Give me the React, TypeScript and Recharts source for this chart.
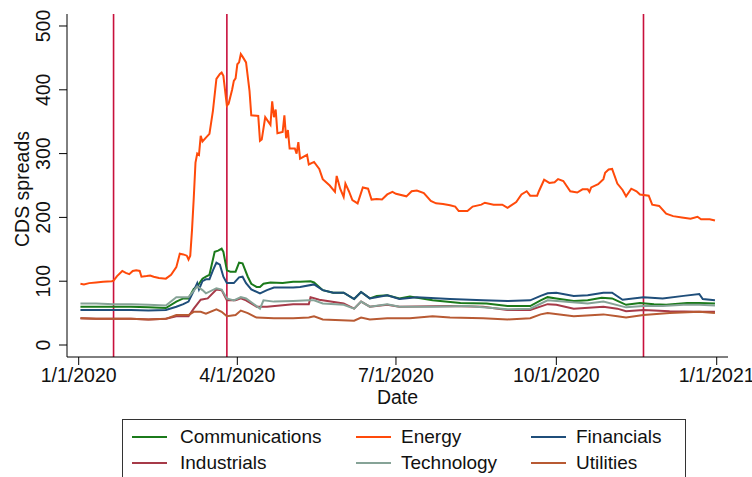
import React from 'react';
import { LineChart, Line, XAxis, YAxis, ReferenceLine, Label } from 'recharts';

// x = days since 1/1/2020
const xTickDays = [0, 91, 182, 274, 366];
const xTickLabels = ['1/1/2020', '4/1/2020', '7/1/2020', '10/1/2020', '1/1/2021'];
const yTicks = [0, 100, 200, 300, 400, 500];
const eventDays = [20, 85, 324];

const communications: [number, number][] = [
  [1, 60], [10, 60], [20, 60], [30, 60], [40, 59], [50, 58], [56, 68], [60, 73], [63, 73], [66, 88], [68, 92], [70, 100],
  [71, 104], [73, 107], [75, 110], [78, 146], [80, 148], [82, 151], [83, 146], [85, 117], [87, 115], [90, 115],
  [92, 129], [94, 128], [97, 107], [99, 96], [102, 91], [104, 91], [106, 96], [110, 98], [117, 97], [123, 99],
  [127, 99], [133, 100], [135, 98], [140, 86], [146, 82], [152, 82], [158, 72], [162, 83], [167, 73], [171, 77],
  [177, 78], [184, 73], [190, 76], [203, 70], [219, 66], [234, 65], [246, 61], [259, 61], [265, 70], [269, 75],
  [274, 73], [284, 69], [292, 70], [300, 74], [306, 73], [310, 68], [314, 63], [322, 66], [330, 64], [337, 63],
  [349, 66], [356, 66], [365, 65],
];

const energy: [number, number][] = [
  [1, 96], [3, 95], [6, 97], [10, 98], [14, 99], [19, 100], [20, 101], [22, 108], [25, 116], [27, 113], [29, 111],
  [31, 116], [33, 117], [35, 116], [36, 107], [39, 108], [41, 109], [43, 107], [46, 105], [50, 104], [53, 110],
  [56, 122], [58, 143], [60, 142], [62, 140], [63, 134], [64, 140], [65, 180], [66, 230], [67, 286], [68, 300],
  [69, 298], [70, 328], [71, 319], [73, 325], [75, 331], [77, 367], [79, 417], [81, 425], [82, 427], [83, 422],
  [85, 375], [86, 378], [88, 400], [89, 414], [90, 418], [91, 440], [92, 443], [93, 456], [94, 452], [96, 443],
  [98, 398], [99, 360], [103, 359], [104, 320], [105, 322], [107, 357], [110, 345], [111, 382], [112, 357],
  [113, 369], [114, 332], [117, 334], [118, 360], [119, 324], [120, 337], [121, 308], [124, 308], [125, 300],
  [126, 318], [127, 292], [131, 298], [132, 283], [135, 287], [138, 276], [140, 260], [144, 250], [147, 240],
  [148, 265], [150, 245], [152, 232], [153, 253], [155, 241], [157, 227], [160, 222], [163, 247], [166, 245],
  [168, 228], [171, 229], [174, 228], [177, 236], [180, 240], [182, 237], [188, 233], [191, 241], [194, 242],
  [198, 238], [202, 226], [205, 222], [209, 221], [213, 219], [216, 217], [218, 210], [223, 210], [226, 217],
  [231, 220], [233, 223], [238, 220], [243, 220], [246, 215], [251, 224], [254, 236], [257, 241], [259, 234],
  [263, 234], [264, 241], [267, 259], [270, 254], [273, 255], [275, 260], [278, 257], [282, 241], [286, 239],
  [289, 244], [292, 244], [293, 240], [294, 247], [298, 252], [301, 260], [302, 270], [304, 275], [306, 276],
  [309, 253], [312, 243], [314, 233], [317, 245], [320, 241], [322, 236], [327, 234], [329, 220], [333, 218],
  [337, 206], [341, 202], [346, 200], [351, 198], [355, 201], [357, 197], [362, 197], [365, 195],
];

const financials: [number, number][] = [
  [1, 55], [10, 55], [20, 55], [30, 55], [40, 54], [50, 55], [56, 60], [60, 64], [63, 68], [66, 85], [68, 97],
  [69, 87], [71, 100], [73, 103], [75, 103], [77, 117], [79, 129], [81, 126], [83, 107], [85, 97], [89, 97],
  [92, 106], [94, 107], [96, 97], [99, 87], [104, 81], [108, 86], [112, 90], [123, 90], [127, 91], [135, 95],
  [140, 86], [146, 82], [152, 82], [158, 72], [162, 83], [167, 73], [177, 78], [184, 72], [194, 75], [213, 72],
  [232, 70], [246, 69], [259, 70], [265, 77], [269, 81], [274, 82], [284, 77], [292, 78], [301, 82], [306, 82],
  [312, 71], [324, 75], [335, 73], [347, 77], [356, 80], [358, 72], [365, 70],
];

const industrials: [number, number][] = [
  [1, 42], [10, 41], [20, 41], [30, 41], [40, 40], [50, 41], [56, 45], [63, 45], [66, 57], [70, 71], [74, 73],
  [79, 87], [82, 86], [85, 70], [90, 70], [93, 73], [96, 70], [102, 60], [108, 60], [123, 64], [132, 64],
  [133, 75], [138, 71], [152, 65], [158, 57], [162, 68], [167, 60], [177, 63], [184, 60], [213, 61], [232, 60],
  [246, 55], [259, 55], [269, 64], [274, 63], [284, 57], [301, 60], [309, 57], [314, 53], [324, 55], [339, 53],
  [356, 52], [365, 52],
];

const technology: [number, number][] = [
  [1, 65], [10, 65], [20, 64], [30, 64], [40, 63], [50, 62], [56, 75], [63, 75], [68, 92], [71, 86], [73, 81],
  [79, 89], [82, 87], [85, 73], [89, 70], [93, 75], [96, 73], [100, 65], [104, 57], [106, 70], [112, 68],
  [123, 69], [132, 70], [135, 70], [140, 65], [152, 63], [158, 57], [162, 68], [167, 60], [177, 64], [184, 60],
  [203, 60], [223, 61], [246, 56], [259, 57], [269, 70], [278, 68], [292, 65], [301, 68], [314, 59], [324, 61],
  [335, 61], [347, 63], [356, 63], [365, 62],
];

const utilities: [number, number][] = [
  [1, 42], [10, 41], [20, 41], [30, 41], [40, 40], [50, 41], [56, 47], [63, 47], [66, 52], [70, 52], [73, 49],
  [79, 56], [82, 52], [85, 45], [90, 47], [93, 54], [97, 50], [102, 43], [112, 42], [123, 42], [132, 43],
  [135, 45], [140, 40], [158, 38], [162, 43], [167, 40], [177, 42], [190, 42], [203, 45], [213, 43], [232, 42],
  [246, 40], [259, 42], [265, 48], [269, 50], [284, 45], [301, 48], [309, 45], [314, 43], [324, 47], [339, 50],
  [356, 52], [365, 50],
];

const seriesNames = ['Communications', 'Energy', 'Financials', 'Industrials', 'Technology', 'Utilities'];
const seriesPoints = [communications, energy, financials, industrials, technology, utilities];
const seriesColors = ['#1b7a1b', '#ff4a0a', '#1f4e7a', '#a63a48', '#86a397', '#b85a33'];

const FONT = '"Liberation Sans", Arial, Helvetica, sans-serif';
const TICK_FS = 19.5;
const LEGEND_FS = 19;

const toData = (pts: [number, number][]) => pts.map(([day, v]) => ({ day, v }));

const YTick = (props: any) => {
  const { x, y, payload } = props;
  return (
    <text x={x} y={y} transform={`rotate(-90, ${x}, ${y})`} textAnchor="middle" fontSize={TICK_FS}
      fontFamily={FONT} fill="#111">{payload.value}</text>
  );
};

const legendCols = [
  { lineX: 132, textX: 180 },
  { lineX: 356, textX: 401 },
  { lineX: 531, textX: 576 },
];
const legendRows = [437, 463];

export default function App() {
  return (
    <div style={{ position: 'absolute', left: 0, top: 0, width: 752, height: 477, overflow: 'hidden', background: '#fff', fontFamily: FONT }}>
      <LineChart width={752} height={477} margin={{ top: 14, right: 24, bottom: 0, left: 0 }}>
        <XAxis dataKey="day" type="number" domain={[-6.71, 372.48]} ticks={xTickDays} interval={0}
          allowDataOverflow height={120} tickSize={8} tickMargin={3} stroke="#000"
          tickFormatter={(d: number) => xTickLabels[xTickDays.indexOf(d)]}
          tick={{ fontSize: TICK_FS, fill: '#111', fontFamily: FONT }}>
          <Label content={() => (
            <text x={397.5} y={403.5} textAnchor="middle" fontSize={TICK_FS} fontFamily={FONT} fill="#111">Date</text>
          )} />
        </XAxis>
        <XAxis xAxisId="top" orientation="top" type="number" domain={[-6.71, 372.48]} height={0}
          tick={false} tickLine={false} stroke="#000" />
        <YAxis type="number" domain={[-18.8, 518.8]} ticks={yTicks} interval={0} allowDataOverflow width={67}
          tickSize={8} tickMargin={9} stroke="#000" tick={<YTick />}>
          <Label content={() => (
            <text x={29} y={189} transform="rotate(-90, 29, 189)" textAnchor="middle" fontSize={TICK_FS}
              fontFamily={FONT} fill="#111">CDS spreads</text>
          )} />
        </YAxis>
        <YAxis yAxisId="right" orientation="right" type="number" domain={[0, 1]} width={0} tick={false}
          tickLine={false} stroke="#000" />
        {eventDays.map((d) => (
          <ReferenceLine key={d} x={d} stroke="#c8103c" strokeWidth={1.6} />
        ))}
        {seriesPoints.map((pts, i) => (
          <Line key={seriesNames[i]} data={toData(pts)} dataKey="v" name={seriesNames[i]} type="linear"
            stroke={seriesColors[i]} strokeWidth={2} dot={false} activeDot={false} isAnimationActive={false} />
        ))}
      </LineChart>
      <div style={{ position: 'absolute', left: 122, top: 419, width: 564, height: 70, border: '1px solid #333', boxSizing: 'border-box' }} />
      {seriesNames.map((name, i) => {
        const col = legendCols[i % 3];
        const rowY = legendRows[Math.floor(i / 3)];
        return (
          <React.Fragment key={name}>
            <div style={{ position: 'absolute', left: col.lineX, top: rowY - 1, width: 35, height: 2, background: seriesColors[i] }} />
            <div style={{ position: 'absolute', left: col.textX, top: rowY - 11, fontSize: LEGEND_FS, lineHeight: '22px', color: '#111', whiteSpace: 'nowrap' }}>{name}</div>
          </React.Fragment>
        );
      })}
    </div>
  );
}
